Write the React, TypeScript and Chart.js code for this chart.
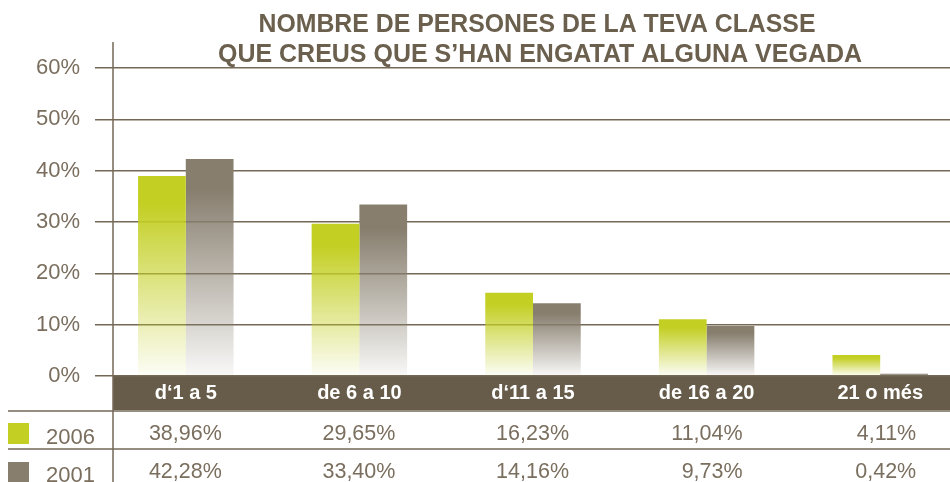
import { useEffect, useRef } from "react";
import { Chart, registerables } from "chart.js";

Chart.register(...registerables);

const categories = ["d‘1 a 5", "de 6 a 10", "d‘11 a 15", "de 16 a 20", "21 o més"];
const seriesLabels = ["2006", "2001"];
const values2006 = [38.96, 29.65, 16.23, 11.04, 4.11];
const values2001 = [42.28, 33.4, 14.16, 9.73, 0.42];
const yTickValues = [0, 10, 20, 30, 40, 50, 60];
const titleLines = [
  "NOMBRE DE PERSONES DE LA TEVA CLASSE",
  "QUE CREUS QUE S’HAN ENGATAT ALGUNA VEGADA",
];

const GREEN = "#c3cf23";
const GREEN_FADE = "rgba(195,207,35,0.04)";
const GRAY = "#877e6e";
const GRAY_FADE = "rgba(135,126,110,0.05)";
const LINE = "#746957";
const BAND = "#675c4a";
const TEXT = "#7a6e5e";
const TITLE = "#6b5f4d";
const FONT = "'Liberation Sans', Arial, sans-serif";

const fmt = (v: number) => v.toFixed(2).replace(".", ",") + "%";

function barFill(ctx: any, color: string, fade: string) {
  const chart = ctx.chart;
  if (!chart.chartArea || ctx.type !== "data") return color;
  const y = chart.scales.y;
  const top = y.getPixelForValue(ctx.raw);
  const base = y.getPixelForValue(0);
  if (!isFinite(top) || !isFinite(base) || base - top < 1) return color;
  const g = chart.ctx.createLinearGradient(0, top, 0, base);
  g.addColorStop(0, color);
  g.addColorStop(0.14, color);
  g.addColorStop(1, fade);
  return g;
}

const decorPlugin = {
  id: "decor",
  beforeDraw(chart: any) {
    const { ctx, chartArea, scales } = chart;
    const xs = scales.x;
    ctx.save();
    // category band
    ctx.fillStyle = BAND;
    ctx.fillRect(113, chartArea.bottom, 950 - 113, 34);
    // axis line
    ctx.strokeStyle = LINE;
    ctx.lineWidth = 1.5;
    ctx.beginPath();
    ctx.moveTo(113, 42);
    ctx.lineTo(113, 482);
    ctx.stroke();
    // table lines
    ctx.beginPath();
    ctx.moveTo(8, 411);
    ctx.lineTo(950, 411);
    ctx.moveTo(8, 449);
    ctx.lineTo(950, 449);
    ctx.stroke();

    // title
    ctx.fillStyle = TITLE;
    ctx.font = `bold 25px ${FONT}`;
    ctx.textAlign = "center";
    ctx.textBaseline = "alphabetic";
    ctx.fillText(titleLines[0], 537, 32, 557);
    ctx.fillText(titleLines[1], 540, 62, 644);

    // legend + values
    const rows = [
      { label: seriesLabels[0], color: GREEN, vals: values2006, base: 440, sq: 423 },
      { label: seriesLabels[1], color: GRAY, vals: values2001, base: 478, sq: 462 },
    ];
    rows.forEach((r) => {
      ctx.fillStyle = r.color;
      ctx.fillRect(8, r.sq, 21, 21);
      ctx.fillStyle = TEXT;
      ctx.font = `22px ${FONT}`;
      ctx.textAlign = "left";
      ctx.fillText(r.label, 46, r.base + 4);
      ctx.font = `21.5px ${FONT}`;
      ctx.textAlign = "right";
      r.vals.forEach((v, i) => {
        ctx.fillText(fmt(v), xs.getPixelForValue(i) + 36, r.base);
      });
    });
    ctx.restore();
  },
};

export default function App() {
  const ref = useRef<HTMLCanvasElement | null>(null);

  useEffect(() => {
    if (!ref.current) return;
    const chart = new Chart(ref.current, {
      type: "bar",
      data: {
        labels: categories,
        datasets: [
          {
            label: seriesLabels[0],
            data: values2006,
            backgroundColor: (c: any) => barFill(c, GREEN, GREEN_FADE),
            borderWidth: 0,
          },
          {
            label: seriesLabels[1],
            data: values2001,
            backgroundColor: (c: any) => barFill(c, GRAY, GRAY_FADE),
            borderWidth: 0,
          },
        ],
      },
      options: {
        responsive: false,
        animation: false,
        datasets: { bar: { categoryPercentage: 0.55, barPercentage: 1 } },
        layout: { padding: { top: 68, bottom: 72, right: 1, left: 0 } },
        plugins: {
          legend: { display: false },
          title: { display: false },
          tooltip: { enabled: false },
        },
        scales: {
          x: {
            grid: { display: false },
            border: { display: false },
            ticks: {
              color: "#ffffff",
              font: { family: FONT, size: 20, weight: "bold" },
              padding: -3,
              maxRotation: 0,
              autoSkip: false,
            },
            afterFit: (s: any) => {
              s.height = 34;
            },
          },
          y: {
            min: 0,
            max: 60,
            afterBuildTicks: (s: any) => {
              s.ticks = yTickValues.map((v) => ({ value: v }));
            },
            grid: { color: LINE, lineWidth: 1.5, tickLength: 4, drawTicks: true },
            border: { display: false },
            ticks: {
              color: TEXT,
              font: { family: FONT, size: 22 },
              padding: 15,
              callback: (v: any) => `${v}%`,
            },
            afterFit: (s: any) => {
              s.width = 99;
            },
          },
        },
      },
      plugins: [decorPlugin],
    });
    return () => chart.destroy();
  }, []);

  return (
    <div
      style={{
        position: "absolute",
        left: 0,
        top: 0,
        width: 950,
        height: 482,
        overflow: "hidden",
        background: "#ffffff",
      }}
    >
      <canvas ref={ref} width={968} height={482} style={{ display: "block", width: 968, height: 482 }} />
    </div>
  );
}
